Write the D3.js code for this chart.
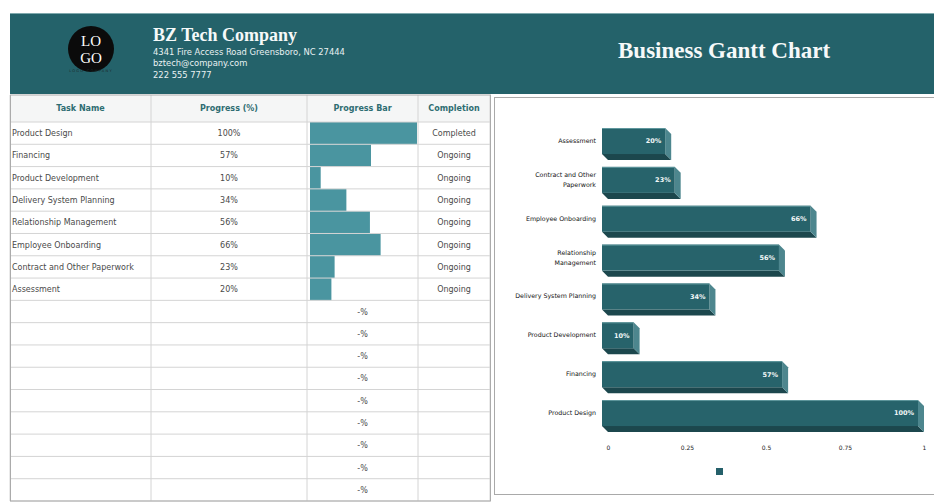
<!DOCTYPE html>
<html lang="en">
<head>
<meta charset="UTF-8">
<title>Business Gantt Chart</title>
<script src="https://d3js.org/d3.v7.min.js"></script>
<style>
  body { margin: 0; background: #fff; }
  svg { display: block; }
  .sans { font-family: "Century Gothic", "DejaVu Sans", sans-serif; }
  .serif { font-family: "Book Antiqua", "Palatino Linotype", "Liberation Serif", serif; font-weight: bold; }
  .cell { font-size: 8px; fill: #4a4a4a; }
  .head { font-size: 8px; fill: #2e6d72; font-weight: bold; }
  .grid { stroke: #d4d4d4; stroke-width: 1; }
  .cat { font-size: 6.3px; fill: #111; }
  .val { font-size: 6.5px; fill: #f2f7f7; font-weight: bold; }
  .tick text { font-size: 6px; fill: #222; }
</style>
</head>
<body>
<svg id="sheet" width="934" height="503"></svg>
<script>
// ---- data ----
const tasks = ["Product Design", "Financing", "Product Development", "Delivery System Planning",
               "Relationship Management", "Employee Onboarding", "Contract and Other Paperwork", "Assessment"];
const progress = [1.00, 0.57, 0.10, 0.34, 0.56, 0.66, 0.23, 0.20];
const completion = ["Completed", "Ongoing", "Ongoing", "Ongoing", "Ongoing", "Ongoing", "Ongoing", "Ongoing"];
const columns = ["Task Name", "Progress (%)", "Progress Bar", "Completion"];
const emptyRows = 9;
const axisTicks = [0, 0.25, 0.5, 0.75, 1];
// words kept on the first line of wrapped category labels
const wrapAfter = { "Contract and Other Paperwork": 3, "Relationship Management": 1 };

const company = "BZ Tech Company";
const companyLines = ["4341 Fire Access Road Greensboro, NC 27444", "bztech@company.com", "222 555 7777"];
const title = "Business Gantt Chart";

// ---- layout ----
const teal = "#24626a";
const svg = d3.select("#sheet");

// header band
svg.append("rect").attr("x", 10).attr("y", 13).attr("width", 924).attr("height", 81).attr("fill", teal);
svg.append("line").attr("x1", 10).attr("x2", 934).attr("y1", 13.5).attr("y2", 13.5)
  .attr("stroke", "#7fa9ad").attr("stroke-width", 1);

// logo
const logo = svg.append("g").attr("transform", "translate(91,49)");
logo.append("circle").attr("r", 23).attr("fill", "#0b0b0b");
logo.selectAll(".lg").data(["LO", "GO"]).join("text")
  .style("font-family", '"Liberation Serif", serif').style("font-size", "15px")
  .attr("text-anchor", "middle").attr("fill", "#fff")
  .attr("y", (d, i) => i ? 14 : -3)
  .text(d => d);
logo.append("text").attr("class", "sans").attr("text-anchor", "middle").attr("y", 23)
  .attr("font-size", 3.6).attr("letter-spacing", 1.2).attr("fill", "#1c2b2d").text("LOGO COMPANY");

// company block
svg.append("text").attr("class", "serif").attr("x", 153).attr("y", 41)
  .attr("font-size", 18).attr("fill", "#f6f9f9").text(company);
svg.append("g").selectAll("text").data(companyLines).join("text")
  .attr("class", "sans").attr("x", 153).attr("y", (d, i) => 55 + i * 11.3)
  .attr("font-size", 8.4).attr("fill", "#e9f1f2").text(d => d);

svg.append("text").attr("class", "serif").attr("x", 618).attr("y", 58)
  .attr("font-size", 23).attr("fill", "#f6f9f9").text(title);

// ---- table ----
const colEdges = [10, 151, 307, 418, 490];
const rows = tasks.map((t, i) => ({ task: t, p: progress[i], status: completion[i] }))
  .concat(d3.range(emptyRows).map(() => ({ task: "", p: null, status: "" })));

const rowY = d3.scaleBand().domain(d3.range(rows.length)).range([122, 501]);
const barX = d3.scaleLinear().domain([0, 1]).range([310, 417]);

const table = svg.append("g");
table.append("rect").attr("x", 10).attr("y", 95).attr("width", 480).attr("height", 27).attr("fill", "#f5f6f6");
table.append("rect").attr("x", 10).attr("y", 122).attr("width", 480).attr("height", 379).attr("fill", "#fff");

// progress bars
table.selectAll(".pbar").data(rows.filter(r => r.p !== null)).join("rect")
  .attr("class", "pbar")
  .attr("x", barX(0))
  .attr("y", (d, i) => rowY(i))
  .attr("width", d => barX(d.p) - barX(0))
  .attr("height", rowY.bandwidth())
  .attr("fill", "#4a95a0");

// grid lines
table.selectAll(".hline").data(rowY.domain().concat([rows.length])).join("line")
  .attr("class", "grid")
  .attr("x1", 10).attr("x2", 490)
  .attr("y1", i => i < rows.length ? rowY(i) : 501)
  .attr("y2", i => i < rows.length ? rowY(i) : 501);
table.selectAll(".vline").data(colEdges).join("line")
  .attr("class", "grid")
  .attr("x1", d => d).attr("x2", d => d).attr("y1", 95).attr("y2", 501);
table.append("rect").attr("x", 10.5).attr("y", 95).attr("width", 480).attr("height", 406)
  .attr("fill", "none").attr("stroke", "#ababab");

// header labels
table.selectAll(".head").data(columns).join("text")
  .attr("class", "head sans")
  .attr("text-anchor", "middle")
  .attr("x", (d, i) => (colEdges[i] + colEdges[i + 1]) / 2)
  .attr("y", 111)
  .text(d => d);

// cells
const rowG = table.selectAll(".row").data(rows).join("g")
  .attr("transform", (d, i) => `translate(0,${rowY(i) + rowY.bandwidth() / 2 + 3})`);
rowG.append("text").attr("class", "cell sans").attr("x", 12).text(d => d.task);
rowG.append("text").attr("class", "cell sans").attr("text-anchor", "middle")
  .attr("x", (colEdges[1] + colEdges[2]) / 2)
  .text(d => d.p === null ? "" : d3.format(".0%")(d.p));
rowG.append("text").attr("class", "cell sans").attr("text-anchor", "middle")
  .attr("x", (colEdges[2] + colEdges[3]) / 2)
  .text(d => d.p === null ? "-%" : "");
rowG.append("text").attr("class", "cell sans").attr("text-anchor", "middle")
  .attr("x", (colEdges[3] + colEdges[4]) / 2)
  .text(d => d.status);

// ---- chart panel ----
svg.append("rect").attr("x", 494.5).attr("y", 97.5).attr("width", 445).attr("height", 397)
  .attr("fill", "#fff").attr("stroke", "#a9a9a9");

const chartCats = tasks.slice().reverse();
const chartVals = progress.slice().reverse();
const depth = 6;

const x = d3.scaleLinear().domain([0, 1]).range([602, 918]);
const y = d3.scaleBand().domain(chartCats).range([121.6, 432.5]).paddingInner(0.33).paddingOuter(0.165);
const bh = y.bandwidth();

const bars = svg.append("g").selectAll("g").data(chartCats.map((c, i) => ({ c, v: chartVals[i] }))).join("g");

// bottom face
bars.append("path").attr("fill", "#1c474d")
  .attr("d", d => {
    const x0 = x(0), x1 = x(d.v), yb = y(d.c) + bh;
    return `M${x0},${yb}L${x1},${yb}L${x1 + depth},${yb + depth}L${x0 + depth},${yb + depth}Z`;
  });
// side face
bars.append("path").attr("fill", "#4d868e")
  .attr("d", d => {
    const x1 = x(d.v), yt = y(d.c);
    return `M${x1},${yt}L${x1 + depth},${yt + depth}L${x1 + depth},${yt + bh + depth}L${x1},${yt + bh}Z`;
  });
// front face
bars.append("rect").attr("fill", "#27636b")
  .attr("x", x(0)).attr("y", d => y(d.c))
  .attr("width", d => x(d.v) - x(0)).attr("height", bh);
bars.append("line").attr("stroke", "#5f979d").attr("stroke-width", 1)
  .attr("x1", x(0)).attr("x2", d => x(d.v))
  .attr("y1", d => y(d.c) + 0.5).attr("y2", d => y(d.c) + 0.5);

bars.append("text").attr("class", "val sans").attr("text-anchor", "end")
  .attr("x", d => x(d.v) - 4).attr("y", d => y(d.c) + bh / 2 + 2.3)
  .text(d => d3.format(".0%")(d.v));

// category labels
const catG = svg.append("g").selectAll("text").data(chartCats).join("text")
  .attr("class", "cat sans").attr("text-anchor", "end")
  .attr("x", 596).attr("y", d => y(d) + bh / 2 + 2);
catG.each(function (d) {
  const words = d.split(" ");
  const n = wrapAfter[d];
  const t = d3.select(this);
  if (!n) { t.text(d); return; }
  t.append("tspan").attr("x", 596).attr("dy", -5).text(words.slice(0, n).join(" "));
  t.append("tspan").attr("x", 596).attr("dy", 10).text(words.slice(n).join(" "));
});

// value axis (ticks sit on the back plane of the bars)
const xBack = x.copy().range([602 + depth, 918 + depth]);
svg.append("g").attr("transform", "translate(0,446)")
  .call(d3.axisBottom(xBack).tickValues(axisTicks).tickSize(0).tickPadding(0).tickFormat(d => String(d)))
  .call(g => g.select(".domain").remove())
  .selectAll("text").attr("class", "sans");

// legend marker (no series name)
svg.append("rect").attr("x", 716).attr("y", 468).attr("width", 7).attr("height", 7).attr("fill", "#25606a");
</script>
</body>
</html>
